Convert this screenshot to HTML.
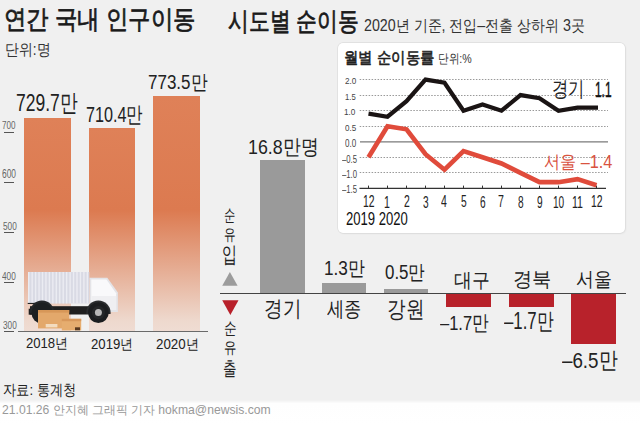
<!DOCTYPE html>
<html><head><meta charset="utf-8">
<style>
html,body{margin:0;padding:0;}
body{width:640px;height:425px;position:relative;overflow:hidden;background:#f0f0f0;font-family:"Liberation Sans",sans-serif;}
.t{position:absolute;white-space:pre;line-height:1;transform-origin:0 0;}
.a{position:absolute;}
</style></head><body>
<!-- bottom white strip -->
<div class="a" style="left:0;top:400px;width:640px;height:25px;background:linear-gradient(to bottom,#f0f0f0 0,#fefefe 3.5px,#fff 100%)"></div>
<!-- left bars -->
<div class="a" style="left:24px;top:118px;width:46.5px;height:213px;background:linear-gradient(to bottom,#df8158 0,#dc7a50 92px,#eed9ce 203px,#efdcd3 213px)"></div>
<div class="a" style="left:89px;top:127.7px;width:46.3px;height:203.3px;background:linear-gradient(to bottom,#df8158 0,#dc7a50 82.3px,#eed9ce 193.3px,#efdcd3 203.3px)"></div>
<div class="a" style="left:153px;top:96px;width:47px;height:235px;background:linear-gradient(to bottom,#df8158 0,#dc7a50 114px,#eed9ce 225px,#efdcd3 235px)"></div>
<!-- left axis -->
<div class="a" style="left:18px;top:330.5px;width:190px;height:1.2px;background:#6a6a6a"></div>
<div class="a" style="left:4px;top:132.4px;width:10px;height:1px;background:#555"></div>
<div class="a" style="left:4px;top:181.9px;width:10px;height:1px;background:#555"></div>
<div class="a" style="left:4px;top:232.4px;width:10px;height:1px;background:#555"></div>
<div class="a" style="left:4px;top:281.6px;width:10px;height:1px;background:#555"></div>
<div class="a" style="left:4px;top:330.5px;width:10px;height:1px;background:#555"></div>
<!-- truck -->
<svg class="a" style="left:0;top:0" width="640" height="425" viewBox="0 0 640 425">
  
  <rect x="28" y="272" width="61.3" height="31.5" fill="#d9dae4"/><rect x="28.00" y="272" width="1.4" height="31.5" fill="#ebecf2"/><rect x="31.45" y="272" width="1.4" height="31.5" fill="#ebecf2"/><rect x="34.90" y="272" width="1.4" height="31.5" fill="#ebecf2"/><rect x="38.35" y="272" width="1.4" height="31.5" fill="#ebecf2"/><rect x="41.80" y="272" width="1.4" height="31.5" fill="#ebecf2"/><rect x="45.25" y="272" width="1.4" height="31.5" fill="#ebecf2"/><rect x="48.70" y="272" width="1.4" height="31.5" fill="#ebecf2"/><rect x="52.15" y="272" width="1.4" height="31.5" fill="#ebecf2"/><rect x="55.60" y="272" width="1.4" height="31.5" fill="#ebecf2"/><rect x="59.05" y="272" width="1.4" height="31.5" fill="#ebecf2"/><rect x="62.50" y="272" width="1.4" height="31.5" fill="#ebecf2"/><rect x="65.95" y="272" width="1.4" height="31.5" fill="#ebecf2"/><rect x="69.40" y="272" width="1.4" height="31.5" fill="#ebecf2"/><rect x="72.85" y="272" width="1.4" height="31.5" fill="#ebecf2"/><rect x="76.30" y="272" width="1.4" height="31.5" fill="#ebecf2"/><rect x="79.75" y="272" width="1.4" height="31.5" fill="#ebecf2"/><rect x="83.20" y="272" width="1.4" height="31.5" fill="#ebecf2"/><rect x="86.65" y="272" width="1.4" height="31.5" fill="#ebecf2"/>
  <!-- cab -->
  <path d="M89.5 277.8 L107.3 277.8 L117.9 292.6 L117.9 312 L89.5 312 Z" fill="#e4e4e8"/>
  <path d="M91.3 279.6 L106.4 279.6 L116.1 293.2 L116.1 310 L91.3 310 Z" fill="#f9f9fb"/>
  <path d="M91.3 296 L116.1 296 L116.1 310 L91.3 310 Z" fill="#efeff2"/>
  <!-- motion line -->
  <rect x="27.7" y="302.9" width="11" height="1.1" fill="#222"/>
  <!-- chassis -->
  <rect x="30" y="306.2" width="70" height="8.3" fill="#1f1f1f"/>
  <rect x="28.7" y="308.7" width="3.5" height="6" fill="#1e1e1e"/>
  <!-- rear wheel -->
  <path d="M29.6 313 A12.4 12.4 0 0 1 54.4 313 Z" fill="#24272a"/>
  <circle cx="42" cy="313" r="10.5" fill="#1c1f21"/>
  <!-- front wheel -->
  <path d="M86.2 312.6 A12.2 12.2 0 0 1 110.6 312.6 L110.6 314 L86.2 314 Z" fill="#2a2c2e"/>
  <circle cx="98.4" cy="312.6" r="10.4" fill="#1b1d1f"/>
  <circle cx="98.4" cy="312.6" r="6.6" fill="#242628"/>
  <circle cx="98.4" cy="312.6" r="3.5" fill="#b7b7b7"/>
  <!-- boxes -->
  <rect x="38" y="310" width="31.2" height="18.4" fill="#e3a86b"/>
  <rect x="38" y="310" width="31.2" height="2.6" fill="#d79758"/>
  <rect x="45.7" y="324" width="11.7" height="3.4" fill="#f3dcc0"/>
  <rect x="61.8" y="318.8" width="19.4" height="11.6" fill="#e6ad6f"/>
  <rect x="61.8" y="318.8" width="19.4" height="2.4" fill="#d8985b"/>
  <rect x="75" y="327.3" width="5" height="3" fill="#5a3a20"/>
</svg>
<!-- inset box -->
<div class="a" style="left:338px;top:42.7px;width:286.5px;height:190.8px;background:#fff;border-radius:5px;box-shadow:0 0 0 0.7px #dcdcdc,1px 1px 2px rgba(0,0,0,0.05)"></div>
<svg class="a" style="left:0;top:0" width="640" height="425" viewBox="0 0 640 425">
  <g stroke="#999" stroke-width="1" stroke-dasharray="1.5 1.48" fill="none">
    <line x1="359.7" y1="79.5" x2="608" y2="79.5"/>
    <line x1="359.7" y1="95.5" x2="608" y2="95.5"/>
    <line x1="359.7" y1="110.5" x2="608" y2="110.5"/>
    <line x1="359.7" y1="126.5" x2="608" y2="126.5"/>
    <line x1="359.7" y1="157.5" x2="608" y2="157.5"/>
    <line x1="359.7" y1="172.5" x2="608" y2="172.5"/>
  </g>
  <line x1="360" y1="141.8" x2="608" y2="141.8" stroke="#7a7a7a" stroke-width="1.3"/>
  <line x1="359.5" y1="188.4" x2="606" y2="188.4" stroke="#333" stroke-width="1.1"/>
  <g stroke="#333" stroke-width="1">
    <line x1="368.5" y1="185.6" x2="368.5" y2="188.4"/><line x1="387.5" y1="185.6" x2="387.5" y2="188.4"/><line x1="406.5" y1="185.6" x2="406.5" y2="188.4"/><line x1="425.5" y1="185.6" x2="425.5" y2="188.4"/><line x1="444.5" y1="185.6" x2="444.5" y2="188.4"/><line x1="463.5" y1="185.6" x2="463.5" y2="188.4"/><line x1="482.5" y1="185.6" x2="482.5" y2="188.4"/><line x1="501.5" y1="185.6" x2="501.5" y2="188.4"/><line x1="520.5" y1="185.6" x2="520.5" y2="188.4"/><line x1="539.5" y1="185.6" x2="539.5" y2="188.4"/><line x1="558.5" y1="185.6" x2="558.5" y2="188.4"/><line x1="577.5" y1="185.6" x2="577.5" y2="188.4"/><line x1="596.5" y1="185.6" x2="596.5" y2="188.4"/>
  </g>
  <polyline points="368.5,113.6 387.5,116.7 406.5,101.2 425.5,79.6 444.5,82.7 463.5,110.7 482.5,104.5 501.5,110.7 520.5,95.1 539.5,98.2 558.5,110.7 577.5,107.6 598,107.6" fill="none" stroke="#1a1414" stroke-width="4.2" stroke-linejoin="miter" stroke-linecap="butt"/>
  <polyline points="368.5,157.3 387.5,126.2 406.5,129.3 425.5,154.2 444.5,169.7 463.5,151.1 482.5,157.3 501.5,163.5 520.5,172.8 539.5,182.2 558.5,182.2 577.5,179.1 596.5,185.3" fill="none" stroke="#e04b3b" stroke-width="4.7" stroke-linejoin="miter" stroke-linecap="butt"/>
</svg>
<!-- right bars -->
<div class="a" style="left:219.5px;top:292.6px;width:406.5px;height:1.1px;background:#444"></div>
<div class="a" style="left:259.7px;top:159.6px;width:45.3px;height:133px;background:#9a9a9a"></div>
<div class="a" style="left:322.2px;top:282.8px;width:44px;height:9.8px;background:#9a9a9a"></div>
<div class="a" style="left:384px;top:289px;width:44px;height:3.6px;background:#9a9a9a"></div>
<div class="a" style="left:445.9px;top:293.7px;width:45.5px;height:13px;background:#b8222b"></div>
<div class="a" style="left:508.6px;top:293.7px;width:45px;height:13px;background:#b8222b"></div>
<div class="a" style="left:570.9px;top:293.7px;width:44.7px;height:50.5px;background:#b8222b"></div>
<!-- triangles -->
<svg class="a" style="left:0;top:0" width="640" height="425" viewBox="0 0 640 425">
  <polygon points="222.2,285.8 237.6,285.8 229.9,272" fill="#9c9c9c"/>
  <polygon points="222.2,300.3 238.5,300.3 230.35,315.1" fill="#b8202a"/>
</svg>
<span class="t" style="left:3.80px;top:7.32px;font-size:25.78px;font-weight:normal;color:#1a1a1a;transform:scaleX(0.8616);-webkit-text-stroke:0.75px #1a1a1a;">연간 국내 인구이동</span>
<span class="t" style="left:4.56px;top:41.68px;font-size:15.70px;font-weight:normal;color:#333;transform:scaleX(0.8683);">단위:명</span>
<span class="t" style="left:16.13px;top:92.00px;font-size:23.56px;font-weight:normal;color:#222;transform:scaleX(0.7421);">729.7만</span>
<span class="t" style="left:85.81px;top:104.79px;font-size:21.52px;font-weight:normal;color:#222;transform:scaleX(0.7515);">710.4만</span>
<span class="t" style="left:148.15px;top:72.41px;font-size:20.30px;font-weight:normal;color:#222;transform:scaleX(0.8378);">773.5만</span>
<span class="t" style="left:1.54px;top:119.13px;font-size:11.69px;font-weight:normal;color:#666;transform:scaleX(0.6919);">700</span>
<span class="t" style="left:1.64px;top:168.39px;font-size:12.48px;font-weight:normal;color:#666;transform:scaleX(0.6735);">600</span>
<span class="t" style="left:2.79px;top:219.81px;font-size:11.69px;font-weight:normal;color:#666;transform:scaleX(0.7037);">500</span>
<span class="t" style="left:2.16px;top:269.81px;font-size:11.69px;font-weight:normal;color:#666;transform:scaleX(0.7056);">400</span>
<span class="t" style="left:2.79px;top:319.37px;font-size:11.69px;font-weight:normal;color:#666;transform:scaleX(0.7037);">300</span>
<span class="t" style="left:25.90px;top:336.28px;font-size:14.21px;font-weight:normal;color:#222;transform:scaleX(0.9229);">2018년</span>
<span class="t" style="left:91.46px;top:336.99px;font-size:14.30px;font-weight:normal;color:#222;transform:scaleX(0.9202);">2019년</span>
<span class="t" style="left:156.45px;top:336.99px;font-size:14.30px;font-weight:normal;color:#222;transform:scaleX(0.9349);">2020년</span>
<span class="t" style="left:3.40px;top:383.13px;font-size:14.91px;font-weight:normal;color:#222;transform:scaleX(0.8823);">자료: 통계청</span>
<span class="t" style="left:2.33px;top:403.78px;font-size:12.22px;font-weight:normal;color:#999;transform:scaleX(0.9948);">21.01.26 안지혜 그래픽 기자 hokma@newsis.com</span>
<span class="t" style="left:228.37px;top:9.42px;font-size:25.79px;font-weight:normal;color:#1a1a1a;transform:scaleX(0.8002);-webkit-text-stroke:0.75px #1a1a1a;">시도별 순이동</span>
<span class="t" style="left:364.04px;top:16.53px;font-size:16.39px;font-weight:normal;color:#333;transform:scaleX(0.8715);">2020년 기준, 전입–전출 상하위 3곳</span>
<span class="t" style="left:344.31px;top:50.20px;font-size:15.96px;font-weight:normal;color:#222;transform:scaleX(0.9006);-webkit-text-stroke:0.6px #222;">월별 순이동률</span>
<span class="t" style="left:437.58px;top:52.10px;font-size:12.99px;font-weight:normal;color:#333;transform:scaleX(0.8183);">단위:%</span>
<span class="t" style="left:344.65px;top:76.12px;font-size:9.58px;font-weight:normal;color:#444;transform:scaleX(0.8546);">2.0</span>
<span class="t" style="left:344.88px;top:91.69px;font-size:9.71px;font-weight:normal;color:#444;transform:scaleX(0.7943);">1.5</span>
<span class="t" style="left:344.40px;top:106.64px;font-size:9.58px;font-weight:normal;color:#444;transform:scaleX(0.8583);">1.0</span>
<span class="t" style="left:344.56px;top:123.52px;font-size:9.35px;font-weight:normal;color:#444;transform:scaleX(0.8636);">0.5</span>
<span class="t" style="left:344.56px;top:139.32px;font-size:10.28px;font-weight:normal;color:#444;transform:scaleX(0.7855);">0.0</span>
<span class="t" style="left:341.88px;top:155.09px;font-size:10.48px;font-weight:normal;color:#444;transform:scaleX(0.7323);">–0.5</span>
<span class="t" style="left:341.88px;top:170.26px;font-size:10.28px;font-weight:normal;color:#444;transform:scaleX(0.7526);">–1.0</span>
<span class="t" style="left:341.88px;top:184.10px;font-size:10.63px;font-weight:normal;color:#444;transform:scaleX(0.7220);">–1.5</span>
<span class="t" style="left:346.41px;top:211.10px;font-size:17.61px;font-weight:normal;color:#111;transform:scaleX(0.7423);">2019 2020</span>
<span class="t" style="left:552.32px;top:78.93px;font-size:20.94px;font-weight:normal;color:#222;transform:scaleX(0.7769);">경기</span>
<span class="t" style="left:594.69px;top:78.78px;font-size:22.23px;font-weight:normal;color:#111;transform:scaleX(0.5348);-webkit-text-stroke:0.5px #111;">1.1</span>
<span class="t" style="left:544.35px;top:153.33px;font-size:18.29px;font-weight:normal;color:#d9533f;transform:scaleX(0.8918);">서울 –1.4</span>
<span class="t" style="left:247.58px;top:136.55px;font-size:20.88px;font-weight:normal;color:#222;transform:scaleX(0.8519);">16.8만명</span>
<span class="t" style="left:323.63px;top:258.13px;font-size:20.33px;font-weight:normal;color:#222;transform:scaleX(0.8447);">1.3만</span>
<span class="t" style="left:385.32px;top:262.10px;font-size:20.37px;font-weight:normal;color:#222;transform:scaleX(0.8300);">0.5만</span>
<span class="t" style="left:263.53px;top:298.44px;font-size:21.75px;font-weight:normal;color:#222;transform:scaleX(0.8425);">경기</span>
<span class="t" style="left:327.35px;top:299.49px;font-size:20.88px;font-weight:normal;color:#222;transform:scaleX(0.8206);">세종</span>
<span class="t" style="left:387.25px;top:297.66px;font-size:23.19px;font-weight:normal;color:#222;transform:scaleX(0.8085);">강원</span>
<span class="t" style="left:453.73px;top:269.88px;font-size:20.00px;font-weight:normal;color:#222;transform:scaleX(0.8936);">대구</span>
<span class="t" style="left:512.58px;top:269.06px;font-size:20.02px;font-weight:normal;color:#222;transform:scaleX(0.9593);">경북</span>
<span class="t" style="left:575.84px;top:269.00px;font-size:20.00px;font-weight:normal;color:#222;transform:scaleX(0.8947);">서울</span>
<span class="t" style="left:439.50px;top:313.03px;font-size:20.69px;font-weight:normal;color:#222;transform:scaleX(0.7968);">–1.7만</span>
<span class="t" style="left:504.44px;top:309.50px;font-size:22.99px;font-weight:normal;color:#222;transform:scaleX(0.7309);">–1.7만</span>
<span class="t" style="left:562.38px;top:348.98px;font-size:22.83px;font-weight:normal;color:#222;transform:scaleX(0.8221);">–6.5만</span>
<span class="t" style="left:362.55px;top:194.12px;font-size:16.83px;font-weight:normal;color:#222;transform:scaleX(0.6200);">12</span>
<span class="t" style="left:384.18px;top:193.91px;font-size:17.07px;font-weight:normal;color:#222;transform:scaleX(0.6200);">1</span>
<span class="t" style="left:403.58px;top:194.12px;font-size:16.83px;font-weight:normal;color:#222;transform:scaleX(0.6200);">2</span>
<span class="t" style="left:422.72px;top:194.39px;font-size:16.31px;font-weight:normal;color:#222;transform:scaleX(0.6200);">3</span>
<span class="t" style="left:441.40px;top:193.32px;font-size:17.03px;font-weight:normal;color:#222;transform:scaleX(0.6200);">4</span>
<span class="t" style="left:460.68px;top:194.19px;font-size:16.54px;font-weight:normal;color:#222;transform:scaleX(0.6200);">5</span>
<span class="t" style="left:479.67px;top:194.39px;font-size:16.31px;font-weight:normal;color:#222;transform:scaleX(0.6200);">6</span>
<span class="t" style="left:498.14px;top:193.32px;font-size:17.03px;font-weight:normal;color:#222;transform:scaleX(0.6200);">7</span>
<span class="t" style="left:517.72px;top:194.39px;font-size:16.31px;font-weight:normal;color:#222;transform:scaleX(0.6200);">8</span>
<span class="t" style="left:536.67px;top:194.39px;font-size:16.31px;font-weight:normal;color:#222;transform:scaleX(0.6200);">9</span>
<span class="t" style="left:552.99px;top:194.39px;font-size:16.31px;font-weight:normal;color:#222;transform:scaleX(0.6200);">10</span>
<span class="t" style="left:572.04px;top:193.91px;font-size:17.07px;font-weight:normal;color:#222;transform:scaleX(0.6200);">11</span>
<span class="t" style="left:590.55px;top:194.12px;font-size:16.83px;font-weight:normal;color:#222;transform:scaleX(0.6200);">12</span>
<span class="t" style="left:223.81px;top:207.39px;font-size:17.35px;font-weight:normal;color:#222;transform:scaleX(0.6686);">순</span>
<span class="t" style="left:223.69px;top:226.63px;font-size:15.95px;font-weight:normal;color:#222;transform:scaleX(0.7227);">유</span>
<span class="t" style="left:222.22px;top:244.46px;font-size:22.38px;font-weight:normal;color:#222;transform:scaleX(0.6837);">입</span>
<span class="t" style="left:223.71px;top:320.39px;font-size:17.35px;font-weight:normal;color:#222;transform:scaleX(0.7459);">순</span>
<span class="t" style="left:223.64px;top:339.63px;font-size:15.95px;font-weight:normal;color:#222;transform:scaleX(0.7743);">유</span>
<span class="t" style="left:223.05px;top:359.72px;font-size:18.94px;font-weight:normal;color:#222;transform:scaleX(0.7142);">출</span>
</body></html>
